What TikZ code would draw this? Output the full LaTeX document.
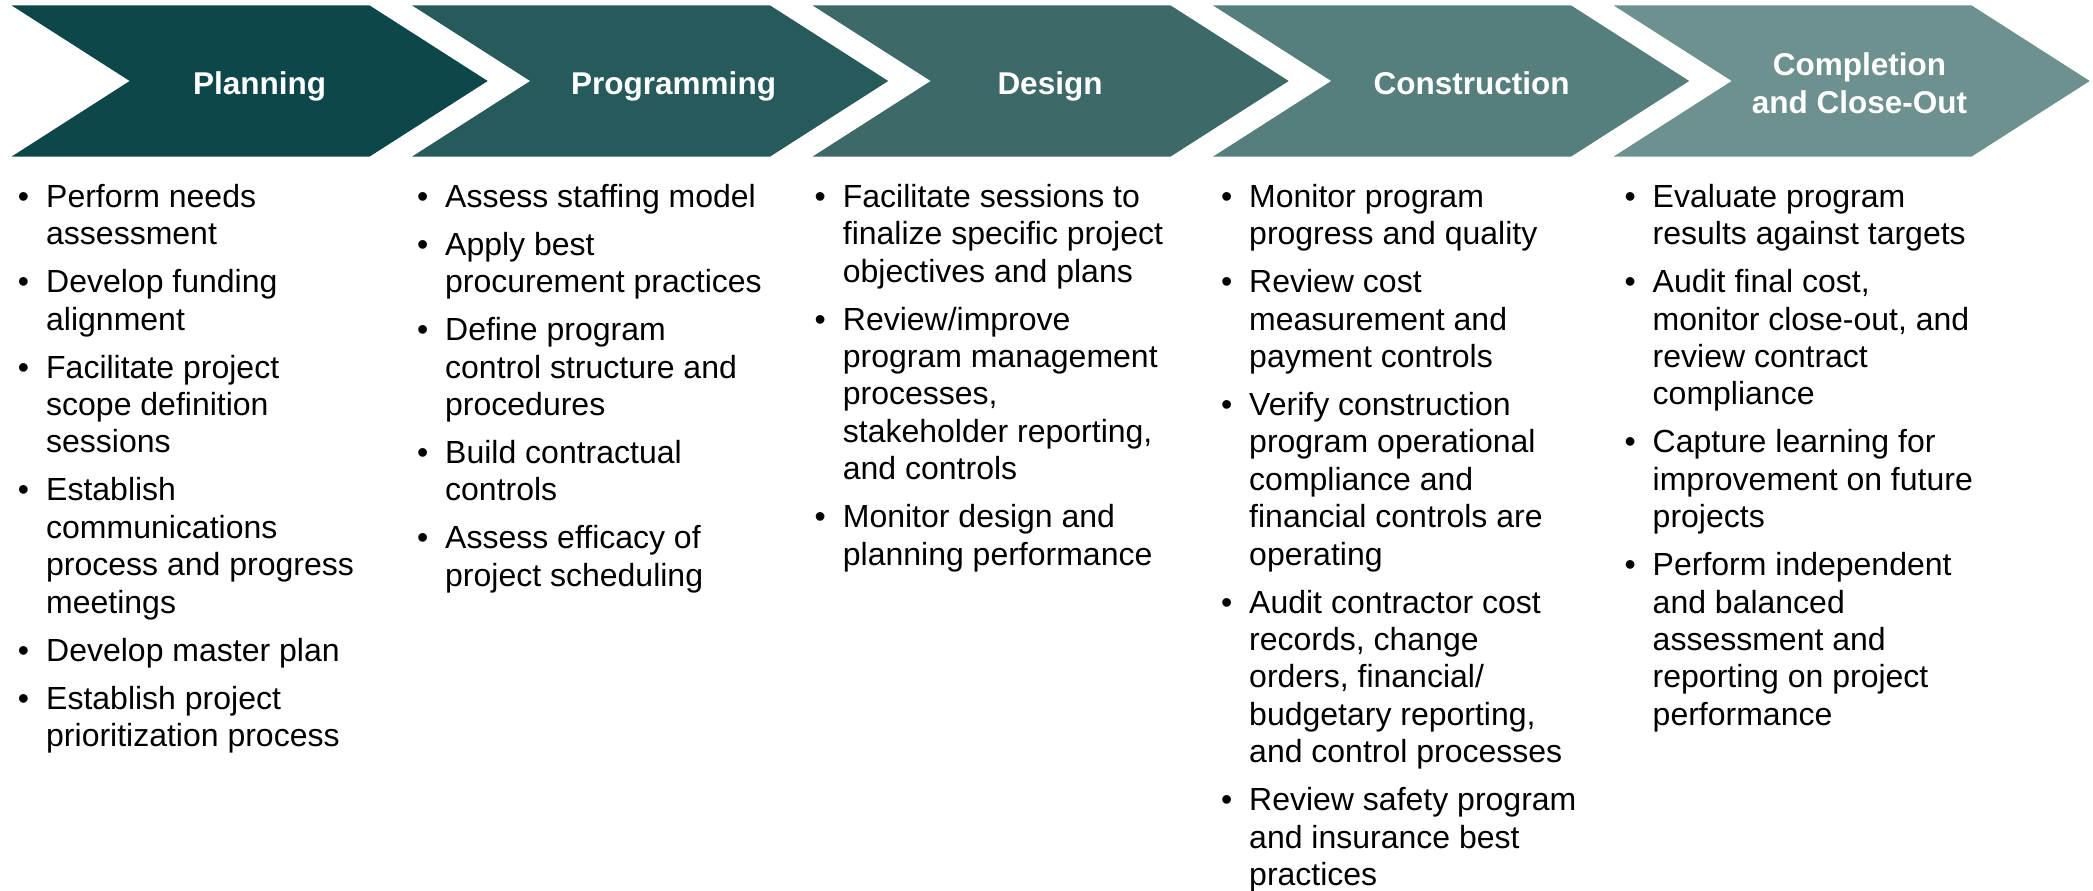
\documentclass[tikz,border=0pt]{standalone}
\usepackage{fontspec}
\setmainfont{Liberation Sans}

% phase colours, dark to light
\definecolor{phaseA}{HTML}{0E4749}
\definecolor{phaseB}{HTML}{275A5B}
\definecolor{phaseC}{HTML}{3D6968}
\definecolor{phaseD}{HTML}{567E7C}
\definecolor{phaseE}{HTML}{6D918F}

% hanging bullet in front of the first line of a task
\newcommand{\taskbullet}{\llap{•\hspace{17pt}}}

\begin{document}
\begin{tikzpicture}[x=1pt,y=-1pt,
  phase/.style={text=white, inner sep=0pt, anchor=base,
    font=\fontsize{31.5}{39}\selectfont\bfseries},
  tasks/.style={text=black, inner sep=0pt, anchor=base west,
    font=\fontsize{32}{37.4}\selectfont}]

\useasboundingbox (0,0) rectangle (2093,891);

% chevron band
\foreach \i/\col in {0/phaseA,1/phaseB,2/phaseC,3/phaseD,4/phaseE}{
  \pgfmathsetmacro{\xo}{11.7+400.5*\i}
  \fill[\col] (\xo,5.5) -- ++(358,0) -- ++(118,75.5) -- ++(-118,75.5)
    -- ++(-358,0) -- ++(118,-75.5) -- cycle;
}

% phase titles
\node[phase] (planning)     at (259.5,95)  {Planning};
\node[phase] (programming)  at (673.6,95)  {Programming};
\node[phase] (design)       at (1050,95)   {Design};
\node[phase] (construction) at (1471.7,95) {Construction};
\node[phase] (closeout)     at (1859.5,75)
  {\begin{tabular}[t]{@{}c@{}}Completion\\and Close-Out\end{tabular}};

% task lists
\node[tasks] (planningtasks) at (46,207.3) {\begin{tabular}[t]{@{}l@{}}
\taskbullet Perform needs\\
assessment\\[10.6pt]
\taskbullet Develop funding\\
alignment\\[10.6pt]
\taskbullet Facilitate project\\
scope definition\\
sessions\\[10.6pt]
\taskbullet Establish\\
communications\\
process and progress\\
meetings\\[10.6pt]
\taskbullet Develop master plan\\[10.6pt]
\taskbullet Establish project\\
prioritization process
\end{tabular}};

\node[tasks] (programmingtasks) at (445,207.3) {\begin{tabular}[t]{@{}l@{}}
\taskbullet Assess staffing model\\[10.6pt]
\taskbullet Apply best\\
procurement practices\\[10.6pt]
\taskbullet Define program\\
control structure and\\
procedures\\[10.6pt]
\taskbullet Build contractual\\
controls\\[10.6pt]
\taskbullet Assess efficacy of\\
project scheduling
\end{tabular}};

\node[tasks] (designtasks) at (842.7,207.3) {\begin{tabular}[t]{@{}l@{}}
\taskbullet Facilitate sessions to\\
finalize specific project\\
objectives and plans\\[10.6pt]
\taskbullet Review/improve\\
program management\\
processes,\\
stakeholder reporting,\\
and controls\\[10.6pt]
\taskbullet Monitor design and\\
planning performance
\end{tabular}};

\node[tasks] (constructiontasks) at (1249,207.3) {\begin{tabular}[t]{@{}l@{}}
\taskbullet Monitor program\\
progress and quality\\[10.6pt]
\taskbullet Review cost\\
measurement and\\
payment controls\\[10.6pt]
\taskbullet Verify construction\\
program operational\\
compliance and\\
financial controls are\\
operating\\[10.6pt]
\taskbullet Audit contractor cost\\
records, change\\
orders, financial/\\
budgetary reporting,\\
and control processes\\[10.6pt]
\taskbullet Review safety program\\
and insurance best\\
practices
\end{tabular}};

\node[tasks] (closeouttasks) at (1652.5,207.3) {\begin{tabular}[t]{@{}l@{}}
\taskbullet Evaluate program\\
results against targets\\[10.6pt]
\taskbullet Audit final cost,\\
monitor close-out, and\\
review contract\\
compliance\\[10.6pt]
\taskbullet Capture learning for\\
improvement on future\\
projects\\[10.6pt]
\taskbullet Perform independent\\
and balanced\\
assessment and\\
reporting on project\\
performance
\end{tabular}};

\end{tikzpicture}
\end{document}
